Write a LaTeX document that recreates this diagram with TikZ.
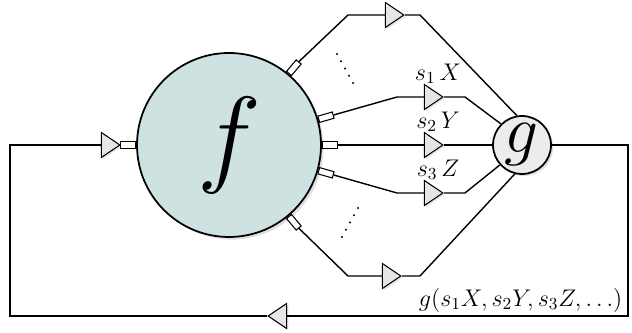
\RequirePackage{fix-cm}
\documentclass[tikz,border=0pt]{standalone}
\usepackage{amsmath}
\usepackage{tikz}
\usetikzlibrary{shapes.geometric, positioning, shadows}
\definecolor{ffill}{RGB}{207,226,226}
\definecolor{gfill}{RGB}{236,236,236}
\definecolor{tfill}{RGB}{230,230,230}
\tikzstyle{bigblock} = [draw, circle, line width=1pt, fill=ffill, minimum size=3.68cm, inner sep=0pt, drop shadow={opacity=0.25, shadow xshift=1.5pt, shadow yshift=-1.5pt}]
\tikzstyle{smallblock} = [draw, circle, line width=1pt, fill=gfill, minimum size=1.16cm, inner sep=0pt, drop shadow={opacity=0.25, shadow xshift=1.2pt, shadow yshift=-1.2pt}]
\tikzstyle{amp} = [draw, isosceles triangle, isosceles triangle stretches, minimum height=0.37cm, minimum width=0.5cm, inner sep=0pt, fill=tfill, line width=0.6pt, drop shadow={opacity=0.2, shadow xshift=1pt, shadow yshift=-1pt}]
\tikzstyle{port} = [draw, rectangle, fill=white, minimum width=0.3cm, minimum height=0.13cm, inner sep=0pt, line width=0.6pt]
\tikzstyle{wire} = [line width=0.8pt]

\begin{document}
\begin{tikzpicture}[x=0.02cm, y=-0.02cm, font=\fontsize{13.7}{16}\selectfont]
    \useasboundingbox (0,0) rectangle (632,333);
    \node [bigblock] (f) at (229,145) {\scalebox{4.5}{$f$}};
    \node [smallblock] (g) at (522,145) {\scalebox{2.8}{$g$}};
    % ports on f
    \node [port, rotate=180, anchor=west] (p0) at (f.180) {};
    \node [port, rotate=50, anchor=west] (p1) at (f.50) {};
    \node [port, rotate=16, anchor=west] (p2) at (f.16) {};
    \node [port, anchor=west] (p3) at (f.0) {};
    \node [port, rotate=-16, anchor=west] (p4) at (f.-16) {};
    \node [port, rotate=-50, anchor=west] (p5) at (f.-50) {};
    % gains
    \node [amp] (a0) at (108,145) {};
    \node [amp] (a1) at (392,15) {};
    \node [amp] (a2) at (431,97) {};
    \node [amp] (a3) at (431,145) {};
    \node [amp] (a4) at (431,193) {};
    \node [amp] (a5) at (389,276) {};
    \node [amp, shape border rotate=180] (aback) at (280,316) {};
    % corners
    \coordinate (k1a) at (348,15);
    \coordinate (k1b) at (420,15);
    \coordinate (k2a) at (397,97);
    \coordinate (k2b) at (465,97);
    \coordinate (k4a) at (397,193);
    \coordinate (k4b) at (465,193);
    \coordinate (k5a) at (348,276);
    \coordinate (k5b) at (420,276);
    \coordinate (out) at (628,145);
    \coordinate (outd) at (628,316);
    \coordinate (ind) at (10,316);
    \coordinate (in) at (10,145);
    \draw [wire] (p1.east) -- (k1a) -- (a1) -- (k1b) -- (g.100);
    \draw [wire] (p2.east) -- (k2a) -- (a2) -- (k2b) -- (g.135);
    \draw [wire] (p3.east) -- (a3) -- (g);
    \draw [wire] (p4.east) -- (k4a) -- (a4) -- (k4b) -- (g.222);
    \draw [wire] (p5.east) -- (k5a) -- (a5) -- (k5b) -- (g.256);
    \draw [wire] (g) -- (out) -- (outd) -- (aback) -- (ind) -- (in) -- (a0) -- (p0.east);
    % labels
    \node [above=-1pt of a2, xshift=4pt] (l1) {$s_1\,X$};
    \node [above=-1pt of a3, xshift=4pt] (l2) {$s_2\,Y$};
    \node [above=-1pt of a4, xshift=4pt] (l3) {$s_3\,Z$};
    \node [above left=2pt and 3pt of outd, inner sep=0pt] (lout) {$g(s_1X, s_2Y, s_3Z, \ldots)$};
    % dots
    \foreach \i in {0,...,4} {
        \fill ({337+4*\i},{54+7.25*\i}) circle (0.7pt);
        \fill ({358-4*\i},{208+7.25*\i}) circle (0.7pt);
    }
\end{tikzpicture}
\end{document}
